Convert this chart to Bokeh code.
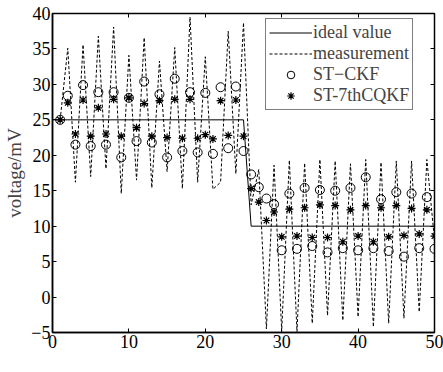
from bokeh.plotting import figure
from bokeh.models import Range1d, LinearAxis, FixedTicker, Legend, LegendItem, Label
from bokeh.embed import file_html
from bokeh.resources import INLINE

# ---- data ----
t = list(range(1, 51))
ideal_t = [0, 25, 26, 50]
ideal_v = [25, 25, 10, 10]
measurement = [25, 35.1, 16.2, 35.6, 17.0, 36.8, 18.1, 38.1, 14.6, 34.1,
               16.5, 36.6, 15.4, 33.3, 17.7, 35.2, 15.3, 39.5, 16.2, 33.9,
               15.2, 16.2, 37.5, 17.4, 38.7, 13.0, 18.0, -4.5, 18.6, -4.8,
               19.3, -4.9, 18.9, -3.7, 19.4, -2.6, 19.2, -3.3, 18.8, -2.8,
               19.4, -4.2, 19.0, -3.7, 19.2, -3.0, 19.2, -2.1, 19.4, 8.0]
st_ckf = [25, 28.4, 21.5, 29.9, 21.3, 28.9, 21.5, 28.9, 19.7, 28.1,
          22.0, 30.4, 21.8, 28.6, 19.7, 30.8, 20.6, 28.9, 20.4, 28.8,
          20.2, 29.6, 21.0, 29.7, 20.6, 17.3, 15.5, 13.9, 13.1, 6.6,
          14.6, 6.8, 15.4, 7.2, 15.1, 6.3, 15.0, 6.9, 15.4, 6.6,
          16.9, 6.9, 13.8, 6.5, 14.8, 5.7, 14.6, 6.9, 14.1, 6.8]
st_7th = [25, 27.4, 23.0, 27.8, 22.7, 26.7, 23.0, 27.9, 22.7, 28.1,
          23.9, 27.3, 22.7, 27.7, 22.5, 27.9, 22.4, 27.9, 22.4, 22.9,
          22.3, 27.7, 22.8, 27.8, 22.7, 15.3, 13.4, 10.8, 12.0, 8.5,
          12.4, 8.6, 12.6, 8.4, 13.0, 8.4, 12.9, 7.8, 12.3, 8.6,
          12.9, 7.8, 12.6, 8.5, 12.9, 8.7, 12.5, 8.9, 12.3, 8.6]
x_ticks = [0, 10, 20, 30, 40, 50]
y_ticks = [-5, 0, 5, 10, 15, 20, 25, 30, 35, 40]
labels = ["ideal value", "measurement", "ST\u2212CKF", "ST-7thCQKF"]

FONT = "Liberation Serif"

p = figure(width=443, height=372, x_range=Range1d(0, 50), y_range=Range1d(-5, 40),
           output_backend="svg", toolbar_location=None,
           min_border_left=52, min_border_right=9, min_border_top=13, min_border_bottom=40)
p.xgrid.visible = False
p.ygrid.visible = False
p.outline_line_color = "black"
p.outline_line_width = 1.5
p.background_fill_color = "white"
p.border_fill_color = "white"

for ax in (p.xaxis[0], p.yaxis[0]):
    ax.major_tick_in = 4
    ax.major_tick_out = 0
    ax.minor_tick_line_color = None
    ax.axis_line_width = 1.5
    ax.major_label_text_font = FONT
    ax.major_label_text_font_size = "18px"
    ax.major_label_text_color = "black"
    ax.major_label_standoff = 2
p.xaxis[0].ticker = FixedTicker(ticks=x_ticks)
p.yaxis[0].ticker = FixedTicker(ticks=y_ticks)
p.yaxis[0].axis_label = "voltage/mV"
p.yaxis[0].axis_label_text_font = FONT
p.yaxis[0].axis_label_text_font_style = "normal"
p.yaxis[0].axis_label_text_font_size = "19px"
p.yaxis[0].axis_label_standoff = 3

top = LinearAxis(ticker=FixedTicker(ticks=x_ticks), major_tick_in=4, major_tick_out=0,
                 minor_tick_line_color=None, major_label_text_font_size="1px",
                 major_label_overrides={v: "" for v in x_ticks},
                 major_label_standoff=0, axis_line_color=None)
right = LinearAxis(ticker=FixedTicker(ticks=y_ticks), major_tick_in=4, major_tick_out=0,
                   minor_tick_line_color=None, major_label_text_font_size="1px",
                   major_label_overrides={v: "" for v in y_ticks},
                   major_label_standoff=0, axis_line_color=None)
p.add_layout(top, "above")
p.add_layout(right, "right")

r_ideal = p.line(ideal_t, ideal_v, line_color="black", line_width=1)
r_meas = p.line(t, measurement, line_color="black", line_width=1, line_dash="3 2")
r_ckf = p.scatter(t, st_ckf, marker="circle", size=9, fill_color=None,
                  line_color="black", line_width=1)
r_7th = p.scatter(t, st_7th, marker="asterisk", size=8, line_color="black", line_width=1.2)

legend = Legend(items=[LegendItem(label=labels[0], renderers=[r_ideal]),
                       LegendItem(label=labels[1], renderers=[r_meas]),
                       LegendItem(label=labels[2], renderers=[r_ckf]),
                       LegendItem(label=labels[3], renderers=[r_7th])],
                location=(213, 222), border_line_color="black", border_line_width=1,
                background_fill_color="white", background_fill_alpha=1,
                label_text_font=FONT, label_text_font_size="18px",
                label_text_line_height=1.0,
                glyph_width=43, glyph_height=19, label_standoff=1, label_height=19,
                padding=3, spacing=0, margin=0)
p.add_layout(legend, "center")

p.add_layout(Label(x=181, y=-17, x_units="screen", y_units="screen", text="t",
                   text_font=FONT, text_font_size="18px", text_font_style="italic",
                   text_baseline="top"))
p.add_layout(Label(x=186, y=-17, x_units="screen", y_units="screen", text="/s",
                   text_font=FONT, text_font_size="18px", text_baseline="top"))

open("out.html", "w").write(file_html(p, INLINE))
